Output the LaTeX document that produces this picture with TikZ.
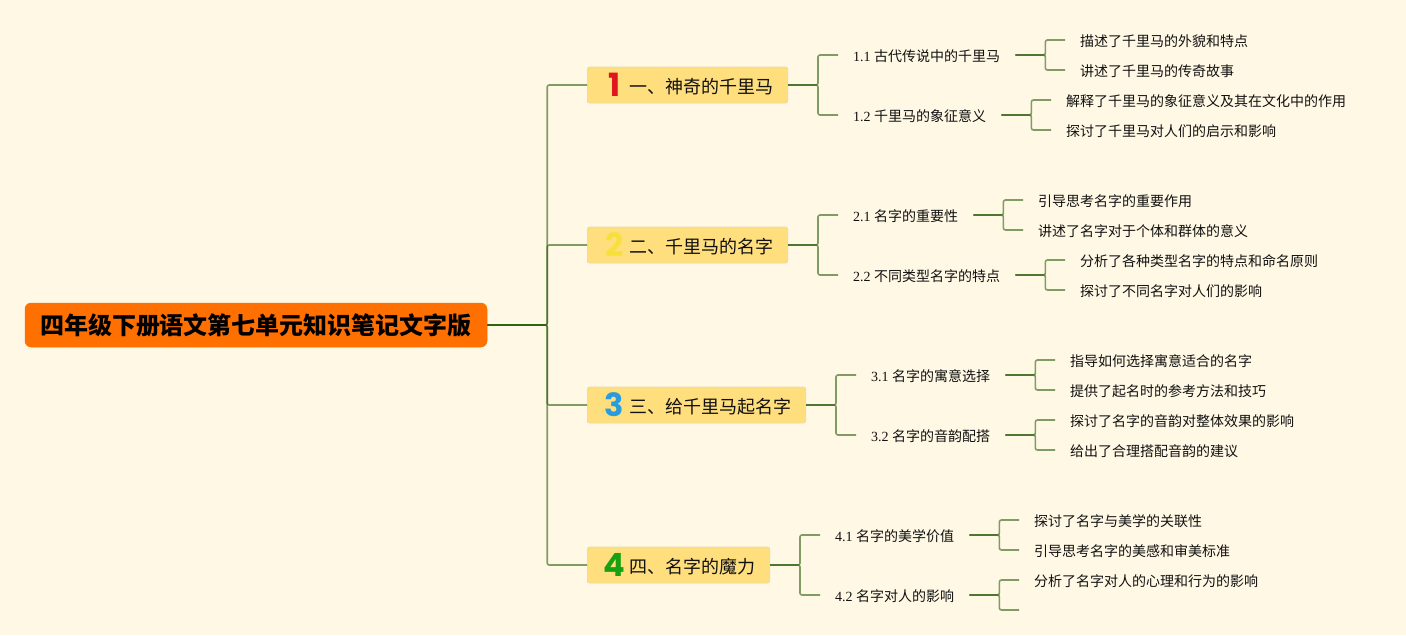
\documentclass[tikz,border=0pt]{standalone}
\usepackage{fontspec}
\setmainfont{Noto Sans CJK SC}
\newfontfamily\lat{Liberation Serif}
\newfontfamily\digitfont{Poppins}
\definecolor{bgc}{HTML}{FFF8E5}
\definecolor{boxc}{HTML}{FFDE7D}
\definecolor{boxe}{HTML}{EBDDA8}
\definecolor{rootc}{HTML}{FF7000}
\definecolor{linec}{HTML}{2E5E0E}
\definecolor{ink}{HTML}{111111}
\definecolor{n1}{HTML}{E0161E}
\definecolor{n2}{HTML}{F7E03C}
\definecolor{n3}{HTML}{2A9BDC}
\definecolor{n4}{HTML}{16A012}
\newcommand{\ico}[2]{\makebox[25pt]{\smash{\raisebox{-2.8pt}{\color{#1}\digitfont\bfseries\fontsize{32}{32}\selectfont #2}}}\hspace{2pt}}
\newcommand{\num}[1]{{\lat #1 }}
\tikzset{
  rootbox/.style={fill=rootc,draw=rootc,rounded corners=6pt,line width=.5pt,inner xsep=15pt,inner ysep=0pt,minimum height=44pt,
    text=black,font=\fontsize{24}{28}\selectfont\bfseries,text height=20.2pt,text depth=2pt},
  topicbox/.style={fill=boxc,draw=boxe,rounded corners=2pt,line width=.8pt,inner xsep=14.6pt,inner ysep=0pt,minimum height=36pt,anchor=west,
    text=ink,font=\fontsize{18}{22}\selectfont,text height=18.7pt,text depth=2pt},
  subtext/.style={anchor=west,inner xsep=15pt,inner ysep=0pt,text=ink,font=\fontsize{14}{18}\selectfont,text height=15.6pt,text depth=2pt},
  conn/.style={draw=linec,draw opacity=.6,line width=1.6pt,rounded corners=2pt}
}
\newcommand{\conn}[3]{\draw[conn] (#1.east) -- ++(#3,0) |- (#2.west);}
\newcommand{\connc}[3]{\draw[conn] (#1.east) -- ++(#3,0) |- (#2);}
\begin{document}
\begin{tikzpicture}[x=1pt,y=-1pt]
\useasboundingbox (0,0) rectangle (1406,635);
\fill[bgc] (0,0) rectangle (1406,635);

\node[rootbox] (root) at (256,325) {四年级下册语文第七单元知识笔记文字版};

\node[topicbox] (t1) at (587,85) {\ico{n1}{1}一、神奇的千里马};
\node[topicbox] (t2) at (587,245) {\ico{n2}{2}二、千里马的名字};
\node[topicbox] (t3) at (587,405) {\ico{n3}{3}三、给千里马起名字};
\node[topicbox] (t4) at (587,565) {\ico{n4}{4}四、名字的魔力};

\node[subtext] (s11) at (838,55) {\num{1.1}古代传说中的千里马};
\node[subtext] (s12) at (838,115) {\num{1.2}千里马的象征意义};
\node[subtext] (s21) at (838,215) {\num{2.1}名字的重要性};
\node[subtext] (s22) at (838,275) {\num{2.2}不同类型名字的特点};
\node[subtext] (s31) at (856,375) {\num{3.1}名字的寓意选择};
\node[subtext] (s32) at (856,435) {\num{3.2}名字的音韵配搭};
\node[subtext] (s41) at (820,535) {\num{4.1}名字的美学价值};
\node[subtext] (s42) at (820,595) {\num{4.2}名字对人的影响};

\node[subtext] (a1) at (1065,40) {描述了千里马的外貌和特点};
\node[subtext] (a2) at (1065,70) {讲述了千里马的传奇故事};
\node[subtext] (b1) at (1051,100) {解释了千里马的象征意义及其在文化中的作用};
\node[subtext] (b2) at (1051,130) {探讨了千里马对人们的启示和影响};
\node[subtext] (c1) at (1023,200) {引导思考名字的重要作用};
\node[subtext] (c2) at (1023,230) {讲述了名字对于个体和群体的意义};
\node[subtext] (d1) at (1065,260) {分析了各种类型名字的特点和命名原则};
\node[subtext] (d2) at (1065,290) {探讨了不同名字对人们的影响};
\node[subtext] (e1) at (1055,360) {指导如何选择寓意适合的名字};
\node[subtext] (e2) at (1055,390) {提供了起名时的参考方法和技巧};
\node[subtext] (f1) at (1055,420) {探讨了名字的音韵对整体效果的影响};
\node[subtext] (f2) at (1055,450) {给出了合理搭配音韵的建议};
\node[subtext] (g1) at (1019,520) {探讨了名字与美学的关联性};
\node[subtext] (g2) at (1019,550) {引导思考名字的美感和审美标准};
\node[subtext] (h1) at (1019,580) {分析了名字对人的心理和行为的影响};
\coordinate (h2) at (1019,610);

\conn{root}{t1}{60}\conn{root}{t2}{60}\conn{root}{t3}{60}\conn{root}{t4}{60}
\conn{t1}{s11}{30}\conn{t1}{s12}{30}
\conn{t2}{s21}{30}\conn{t2}{s22}{30}
\conn{t3}{s31}{30}\conn{t3}{s32}{30}
\conn{t4}{s41}{30}\conn{t4}{s42}{30}
\conn{s11}{a1}{30}\conn{s11}{a2}{30}
\conn{s12}{b1}{30}\conn{s12}{b2}{30}
\conn{s21}{c1}{30}\conn{s21}{c2}{30}
\conn{s22}{d1}{30}\conn{s22}{d2}{30}
\conn{s31}{e1}{30}\conn{s31}{e2}{30}
\conn{s32}{f1}{30}\conn{s32}{f2}{30}
\conn{s41}{g1}{30}\conn{s41}{g2}{30}
\conn{s42}{h1}{30}\connc{s42}{h2}{30}
\end{tikzpicture}
\end{document}
